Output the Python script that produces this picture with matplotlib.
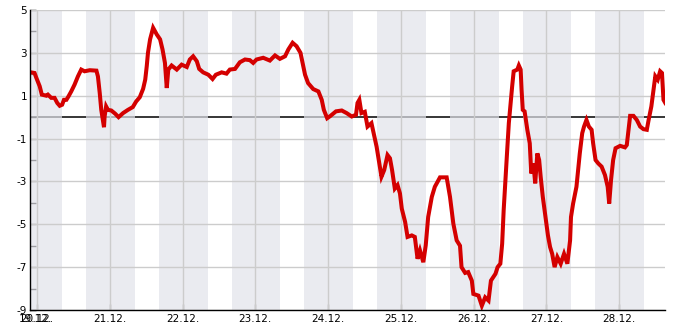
import matplotlib
matplotlib.use("Agg")
import matplotlib.pyplot as plt
import matplotlib.transforms as mtransforms
import numpy as np

# hours since 20.12. 00:00 and temperature (deg C)
hours = [-2.4, -0.8, -0.2, 0.9, 1.6, 3.1, 3.6, 4.7, 5.8, 6.7, 7.5, 8.3, 8.9, 9.7, 10.4,
         11.3, 12.4, 13.5, 14.6, 15.7, 17.4, 19.6, 20.1, 20.7, 21.2, 22.1, 22.3, 22.8,
         23.4, 24.5, 25.8, 26.9, 28.4, 30.0, 31.6, 32.7, 33.9, 35.0, 35.7, 36.2, 36.6,
         37.3, 38.3, 39.5, 40.6, 41.4, 42.2, 42.8, 43.3, 44.4, 46.1, 47.7, 49.4, 50.4,
         51.5, 52.7, 53.5, 54.8, 56.5, 57.9, 59.0, 60.9, 62.5, 63.6, 65.3, 66.9, 68.6,
         70.2, 71.3, 72.4, 74.6, 76.8, 78.5, 80.1, 81.8, 82.9, 84.3, 85.6, 86.9, 87.6,
         88.4, 89.4, 91.1, 92.8, 93.9, 94.6, 95.7, 96.8, 98.6, 100.5, 102.1, 103.8,
         105.2, 105.7, 106.3, 107.0, 108.1, 109.0, 110.3, 110.9, 112.0, 112.8, 113.6,
         114.5, 115.6, 116.4, 117.1, 118.0, 118.9, 119.7, 120.3, 121.4, 122.2, 123.6,
         124.6, 125.5, 126.3, 127.4, 128.2, 129.0, 130.2, 131.2, 132.9, 135.1, 136.2,
         137.3, 138.4, 139.5, 140.0, 141.2, 142.2, 143.4, 143.9, 145.6, 146.7, 147.8,
         148.9, 149.7, 151.2, 151.9, 152.8, 153.4, 153.9, 154.5, 155.0, 155.6, 156.1,
         156.7, 157.2, 158.4, 158.9, 159.5, 159.8, 160.2, 160.8, 161.7, 162.5, 163.0,
         163.7, 164.3, 165.0, 165.6, 166.1, 166.8, 167.7, 168.5, 169.2, 169.9, 170.7,
         171.6, 172.7, 173.8, 174.9, 175.8, 176.1, 176.8, 177.9, 179.0, 179.8, 180.4,
         181.2, 182.0, 182.9, 183.4, 184.2, 185.1, 186.2, 187.3, 188.2, 188.7, 189.3,
         190.0, 190.8, 192.3, 193.9, 194.5, 195.2, 195.6, 196.7, 197.8, 198.9, 200.0,
         201.1, 201.7, 202.6, 203.3, 203.9, 204.7, 205.5, 206.1, 206.6, 207.2]
temps = [2.1, 2.06, 1.83, 1.44, 1.05, 1.0, 1.05, 0.9, 0.9, 0.66, 0.53, 0.58, 0.81, 0.81, 0.97,
         1.2, 1.52, 1.9, 2.22, 2.14, 2.19, 2.17, 1.9, 1.12, 0.34, -0.47, 0.03, 0.5,
         0.34, 0.31, 0.16, 0.0, 0.19, 0.34, 0.47, 0.73, 0.93, 1.32, 1.75, 2.38, 3.0,
         3.63, 4.17, 3.86, 3.63, 3.16, 2.53, 1.36, 2.22, 2.41, 2.22, 2.45, 2.34, 2.69,
         2.84, 2.61, 2.25, 2.09, 1.98, 1.78, 1.98, 2.09, 2.03, 2.22, 2.25, 2.56, 2.69,
         2.66, 2.53, 2.69, 2.77, 2.64, 2.88, 2.72, 2.84, 3.16, 3.47, 3.31, 3.0, 2.53,
         1.98, 1.59, 1.31, 1.2, 0.81, 0.34, -0.05, 0.06, 0.27, 0.31, 0.19, 0.03,
         0.11, 0.66, 0.81, 0.19, 0.25, -0.44, -0.28, -0.67, -1.38, -2.08, -2.78,
         -2.47, -1.77, -1.92, -2.47, -3.33, -3.17, -3.56, -4.27, -4.89, -5.59, -5.52,
         -5.59, -6.61, -6.22, -6.77, -5.98, -4.66, -3.72, -3.25, -2.81, -2.81, -3.72,
         -4.97, -5.75, -6.0, -7.0, -7.27, -7.23, -7.63, -8.25, -8.33, -8.8, -8.41,
         -8.56, -7.63, -7.31, -7.0, -6.84, -5.91, -4.34, -2.94, -1.69, -0.28, 0.5,
         1.44, 2.14, 2.22, 2.41, 2.22, 1.28, 0.34, 0.27, -0.59, -1.22, -2.63,
         -2.16, -3.09, -1.69, -2.0, -2.78, -3.72, -4.66, -5.52, -6.06, -6.38, -7.0,
         -6.53, -6.84, -6.38, -6.84, -5.75, -4.66, -4.03, -3.25, -1.69, -0.75, -0.44,
         -0.13, -0.44, -0.59, -1.22, -2.0, -2.16, -2.31, -2.7, -3.25, -4.03, -2.94,
         -2.0, -1.45, -1.34, -1.41, -1.3, -0.44, 0.06, 0.06, -0.13, -0.44, -0.56,
         -0.59, -0.13, 0.5, 1.28, 1.91, 1.75, 2.14, 2.06, 0.81, 0.66]

date_labels = ["20.12.", "21.12.", "22.12.", "23.12.", "24.12.",
               "25.12.", "26.12.", "27.12.", "28.12."]
start_label = "19.12."
sunrise = 8.25   # hour of day
sunset = 16.17

fig = plt.figure(figsize=(6.85, 3.3), dpi=100)
ax = fig.add_axes([30/685, 20/330, 635/685, 300/330])

ax.set_xlim(-2.3, 207.1)
ax.set_ylim(-9, 5)

# zero line sits below the night shading
ax.axhline(0, color="black", lw=1.1, zorder=1)

# night shading
for d in range(-1, 9):
    ax.axvspan(d*24 + sunset, (d+1)*24 + sunrise, color="#e2e3ea", alpha=0.7,
               lw=0, zorder=2)

# grid
for y in range(-9, 6, 2):
    ax.axhline(y, color="#cccccc", lw=1, zorder=3)
for i in range(len(date_labels)):
    ax.axvline(i*24, color="#cccccc", lw=1, zorder=3)

ax.plot(hours, temps, color="#d40000", lw=2.9, zorder=5,
        solid_joinstyle="miter")

ax.set_yticks(range(-9, 6, 2))
ax.set_yticklabels([str(v) for v in range(-9, 6, 2)])
ax.set_yticks(range(-8, 5, 2), minor=True)
ax.set_xticks([i*24 for i in range(len(date_labels))])
ax.set_xticklabels(date_labels)

ax.tick_params(axis="both", which="both", direction="in", length=4, width=1,
               labelsize=7.5, colors="black")
ax.tick_params(axis="y", pad=2)
ax.tick_params(axis="x", pad=3)

trans = mtransforms.blended_transform_factory(ax.transData, ax.transAxes)
ax.text(-0.6, -0.012, start_label, transform=trans, ha="center", va="top",
        fontsize=7.5)

for s in ["top", "right"]:
    ax.spines[s].set_visible(False)
for s in ["left", "bottom"]:
    ax.spines[s].set_linewidth(1)
    ax.spines[s].set_zorder(6)

fig.savefig("out.png", dpi=100)
